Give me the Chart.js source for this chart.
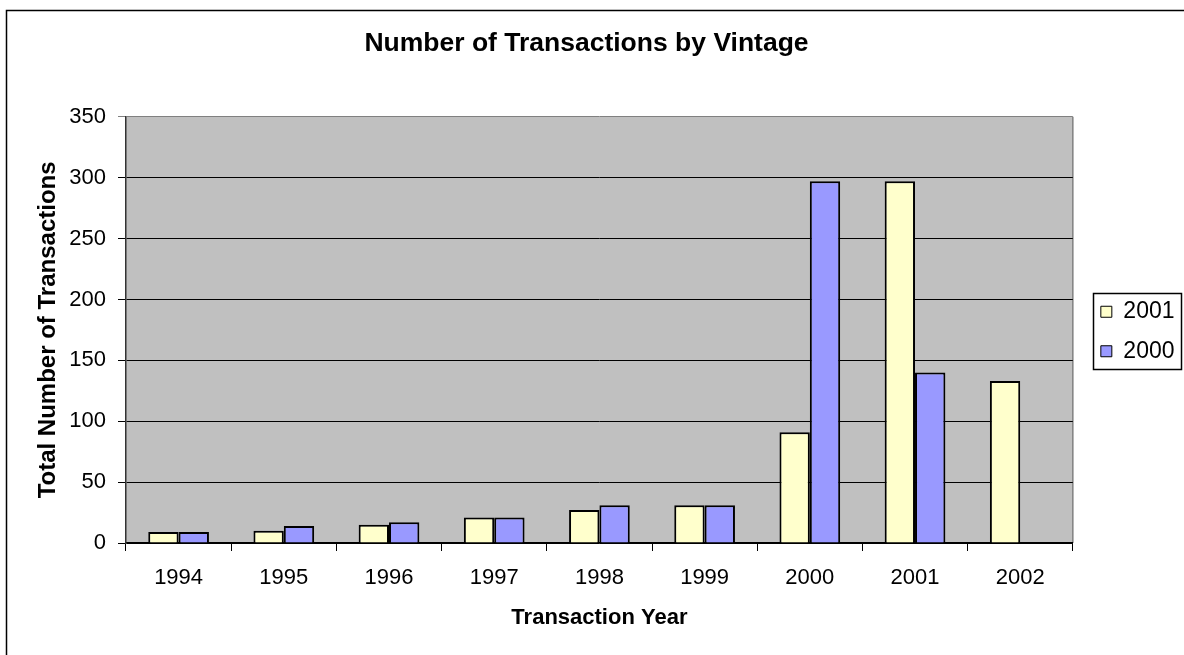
<!DOCTYPE html>
<html>
<head>
<meta charset="utf-8">
<script src="https://cdn.jsdelivr.net/npm/chart.js@4.4.1/dist/chart.umd.min.js"></script>
<style>
  html, body { margin: 0; padding: 0; background: #fff; }
  canvas { display: block; }
</style>
</head>
<body>
<canvas id="chart" width="1184" height="655"></canvas>
<script>
(function () {
  'use strict';

  var years = ['1994', '1995', '1996', '1997', '1998', '1999', '2000', '2001', '2002'];
  var vintage2001 = [9, 10, 15, 21, 27, 31, 91, 297, 133];
  var vintage2000 = [9, 14, 17, 21, 31, 31, 297, 140, null];
  var yTicks = [0, 50, 100, 150, 200, 250, 300, 350];

  Chart.defaults.font.family = 'Arial, "Liberation Sans", sans-serif';
  Chart.defaults.color = '#000';

  var frame = {
    id: 'frame',
    afterLayout: function (chart) {
      // leave a gap between the plot area and the legend, as Excel does
      var lg = chart.legend;
      if (lg) {
        lg.left += 11.5;
        lg.right += 11.5;
        lg.top += 4;
        lg.bottom += 4;
      }
    },
    beforeDraw: function (chart) {
      var ctx = chart.ctx;
      var a = chart.chartArea;
      ctx.save();
      ctx.fillStyle = '#fff';
      ctx.fillRect(0, 0, chart.width, chart.height);
      ctx.strokeStyle = '#000';
      ctx.lineWidth = 1.5;
      ctx.strokeRect(6.5, 10.5, chart.width + 20, chart.height + 20);
      ctx.fillStyle = '#c0c0c0';
      ctx.fillRect(a.left, a.top, a.right - a.left, a.bottom - a.top);
      ctx.strokeStyle = '#808080';
      ctx.lineWidth = 1.5;
      ctx.beginPath();
      ctx.moveTo(a.right, a.top);
      ctx.lineTo(a.right, a.bottom);
      ctx.stroke();
      ctx.restore();
    },
    afterDraw: function (chart) {
      var boxes = chart.legend && chart.legend.legendHitBoxes;
      if (!boxes || !boxes.length) {
        return;
      }
      var l = Infinity, t = Infinity, r = -Infinity, b = -Infinity;
      boxes.forEach(function (h) {
        l = Math.min(l, h.left);
        t = Math.min(t, h.top);
        r = Math.max(r, h.left + h.width);
        b = Math.max(b, h.top + h.height);
      });
      var ctx = chart.ctx;
      ctx.save();
      ctx.strokeStyle = '#000';
      ctx.lineWidth = 1.5;
      ctx.strokeRect(Math.round(l - 8) + 0.5, Math.round(t - 7) + 0.5,
        Math.round(r - l + 14), Math.round(b - t + 13));
      ctx.restore();
    }
  };

  new Chart(document.getElementById('chart'), {
    type: 'bar',
    data: {
      labels: years,
      datasets: [
        {
          label: '2001',
          data: vintage2001,
          backgroundColor: '#ffffcc',
          borderColor: '#000',
          borderWidth: 2,
          categoryPercentage: 0.577,
          barPercentage: 1
        },
        {
          label: '2000',
          data: vintage2000,
          backgroundColor: '#9999ff',
          borderColor: '#000',
          borderWidth: 2,
          categoryPercentage: 0.577,
          barPercentage: 1
        }
      ]
    },
    options: {
      responsive: false,
      animation: false,
      layout: { padding: { right: 11 } },
      scales: {
        x: {
          afterFit: function (s) { s.height = 112; },
          grid: {
            offset: true,
            drawOnChartArea: false,
            drawTicks: true,
            tickLength: 8,
            color: '#000'
          },
          border: { color: '#000', width: 1.5 },
          ticks: { font: { size: 22 }, padding: 14 },
          title: {
            display: true,
            text: 'Transaction Year',
            font: { size: 22, weight: 'bold' },
            padding: { top: 0, bottom: 24 }
          }
        },
        y: {
          min: 0,
          max: 350,
          afterFit: function (s) { s.width = 126; },
          afterBuildTicks: function (s) {
            s.ticks = yTicks.map(function (v) { return { value: v }; });
          },
          grid: {
            color: function (c) {
              return c.tick && c.tick.value === 350 ? '#808080' : '#000';
            },
            lineWidth: 1,
            tickLength: 8
          },
          border: { color: '#333', width: 1.5 },
          ticks: { font: { size: 22 }, padding: 12 },
          title: {
            display: true,
            text: 'Total Number of Transactions',
            font: { size: 24, weight: 'bold' },
            padding: { top: 34, bottom: 0 }
          }
        }
      },
      plugins: {
        title: {
          display: true,
          text: 'Number of Transactions by Vintage',
          font: { size: 26.5, weight: 'bold' },
          padding: { top: 28, bottom: 57 }
        },
        legend: {
          position: 'right',
          labels: {
            font: { size: 23 },
            boxWidth: 11,
            boxHeight: 11,
            padding: 16.5,
            generateLabels: function (chart) {
              return Chart.defaults.plugins.legend.labels.generateLabels(chart).map(function (it) {
                it.lineWidth = 1;
                return it;
              });
            }
          }
        },
        tooltip: { enabled: false }
      }
    },
    plugins: [frame]
  });
})();
</script>
</body>
</html>
